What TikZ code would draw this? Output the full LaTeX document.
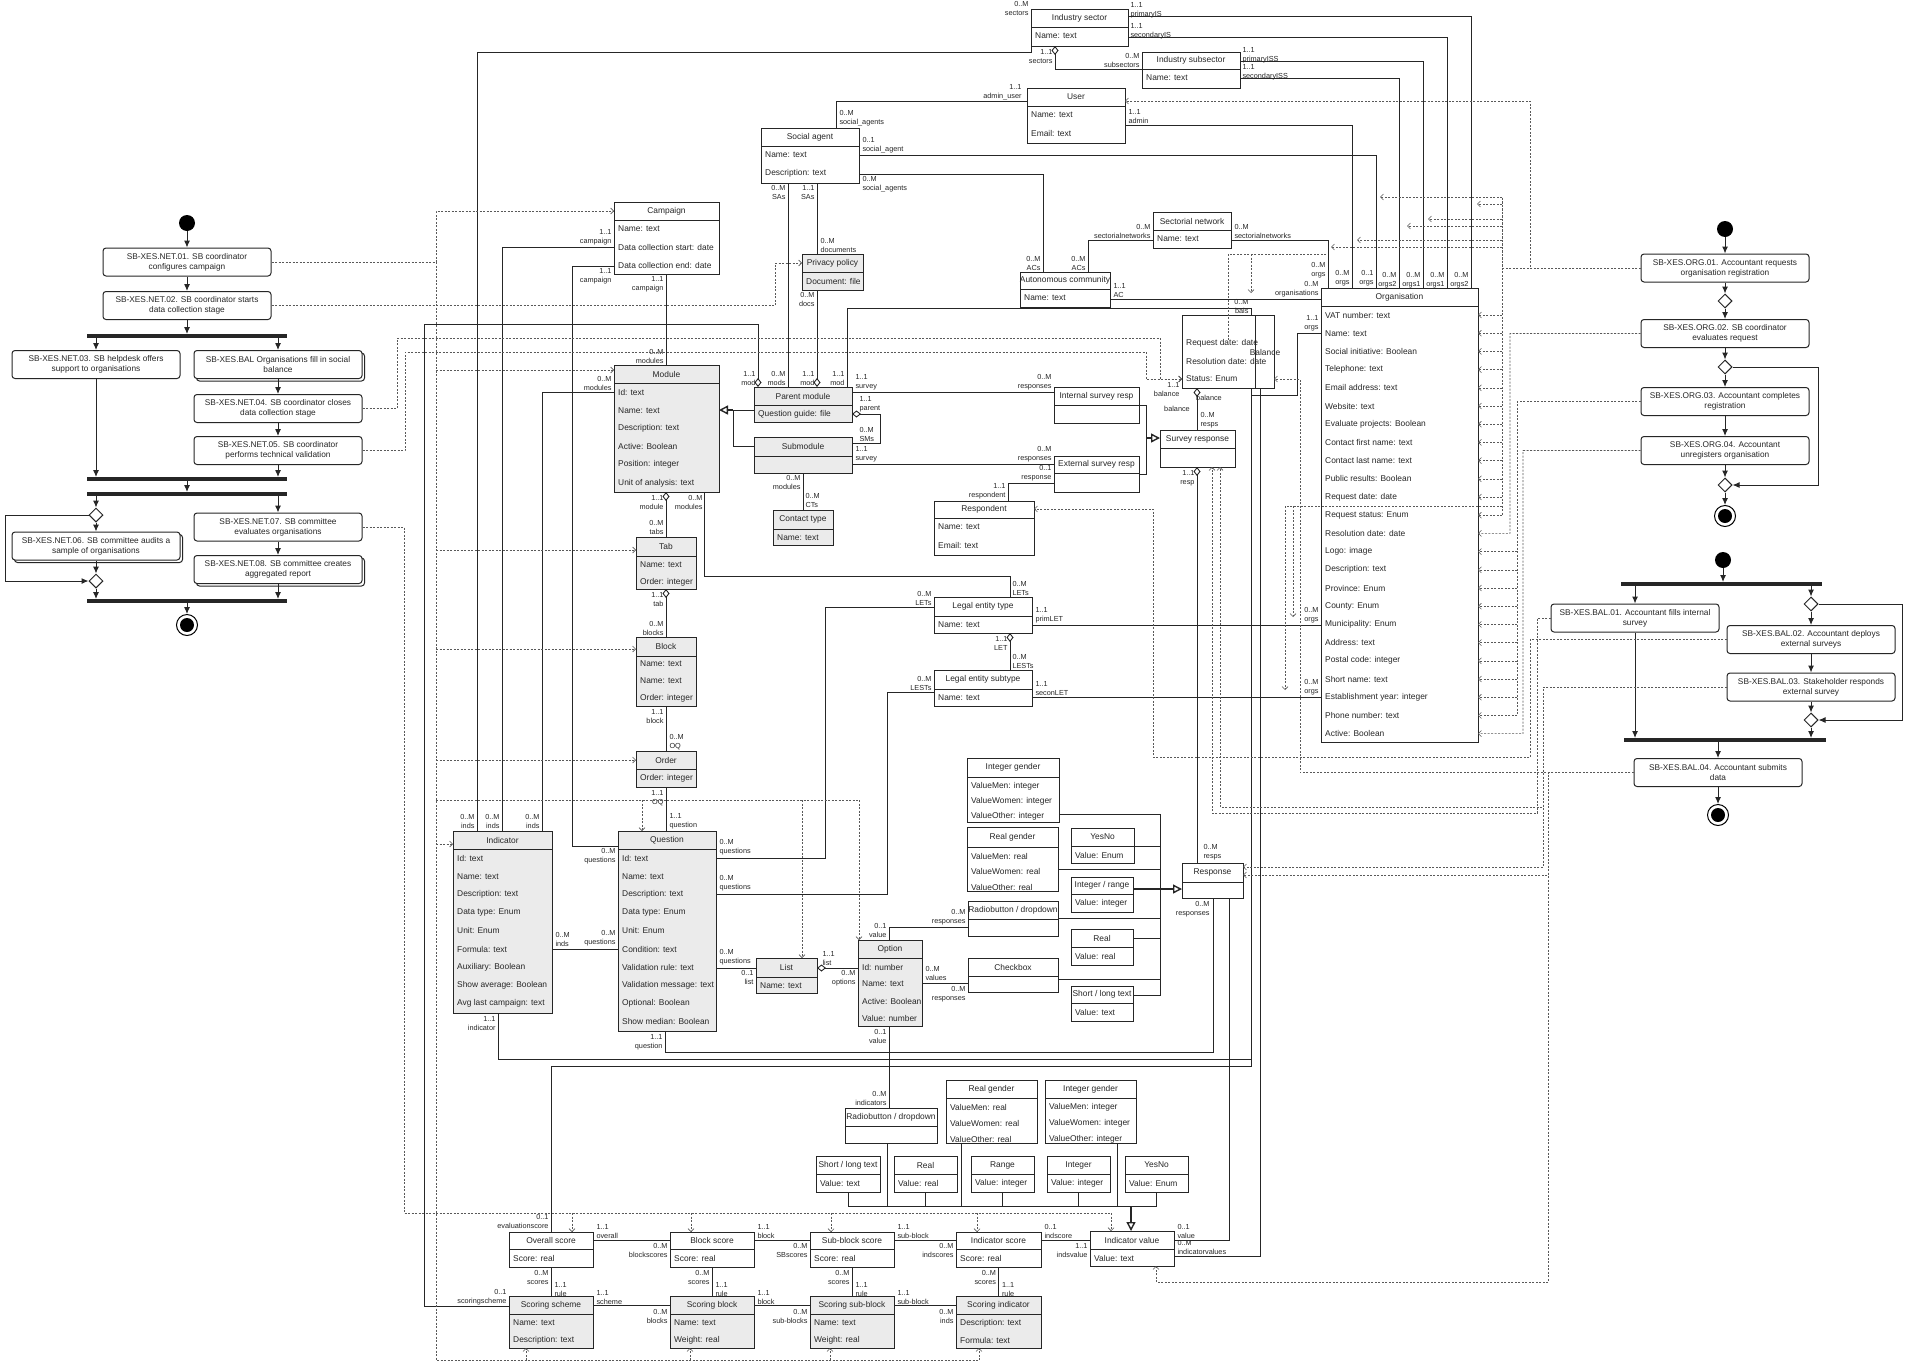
\documentclass[tikz,border=0pt]{standalone}
\usepackage{fontspec}
\setmainfont{Liberation Sans}
\usepackage{xcolor}
\usepackage{tikz}
\usetikzlibrary{shapes.geometric, arrows.meta, positioning, calc, shadows}

\definecolor{clsgray}{HTML}{EBEBEB}
\definecolor{inkc}{HTML}{262626}

\newcommand{\clsfont}{\fontsize{8.4}{9.8}\selectfont}
\newcommand{\lblfont}{\fontsize{7.3}{9}\selectfont}
\newcommand{\actfont}{\fontsize{8.3}{10}\selectfont}
\newcommand{\attrsep}{18.2}
\newcommand{\attroff}{9}
\newcounter{multc}

% class box: [fill]{name}{x}{y}{width}{header h}{body h}{title}{attributes}
\newcommand{\umlclass}[9][white]{%
  \node[clshead, fill=#1, minimum width=#5pt, minimum height=#6pt] (#2) at (#3,#4) {\makebox[0pt]{#8}};
  \node[clsbody, fill=#1, minimum width=#5pt, minimum height=#7pt] (#2-b) at (#2.south west) {};
  \if\relax\detokenize{#9}\relax\else
    \foreach \attrtxt [count=\attrno] in {#9}
      \node[attr] (#2-\attrno) at ($(#2-b.north west)+(4,{\attroff+(\attrno-1)*\attrsep})$) {\attrtxt};
  \fi}
% multiplicity / role label
\newcommand{\multlab}[3]{\stepcounter{multc}\node[mlbl, #1] (m\arabic{multc}) at (#2) {#3};}

\begin{document}
\begin{tikzpicture}[x=1pt, y=-1pt,
    clshead/.style={draw=inkc, line width=0.9pt, anchor=north west, inner sep=0pt, outer sep=0pt, font=\clsfont, text=inkc},
    clsbody/.style={draw=inkc, line width=0.9pt, anchor=north west, inner sep=0pt, outer sep=0pt},
    attr/.style={anchor=west, inner sep=0pt, font=\clsfont, text=inkc},
    mlbl/.style={inner sep=0.3pt, font=\lblfont, text=inkc},
    lblsw/.style={anchor=south west, align=left},
    lblse/.style={anchor=south east, align=right},
    lblnw/.style={anchor=north west, align=left},
    lblne/.style={anchor=north east, align=right},
    act/.style={rectangle, rounded corners=3pt, draw=inkc, line width=1pt, fill=white, minimum width=168pt, minimum height=28pt, inner sep=1pt, align=center, font=\actfont, text=inkc},
    actmulti/.style={act, copy shadow={shadow xshift=2.5pt, shadow yshift=-2.5pt, draw=inkc, line width=1pt, fill=white}},
    syncbar/.style={rectangle, fill=inkc, minimum height=3.6pt, inner sep=0pt, minimum width=200pt},
    dec/.style={diamond, draw=inkc, line width=1pt, fill=white, minimum width=14pt, minimum height=14pt, inner sep=0pt},
    initst/.style={circle, fill=black, minimum size=16pt, inner sep=0pt},
    endst/.style={circle, draw=black, line width=1pt, minimum size=21pt, inner sep=0pt, path picture={\fill[black] (path picture bounding box.center) circle (7pt);}},
    flow/.style={-{Latex[length=7pt, width=6pt]}, line width=1pt, draw=inkc},
    assoc/.style={line width=0.9pt, draw=inkc},
    agg/.style={assoc, {Diamond[open, length=9pt, width=7pt]}-},
    aggend/.style={assoc, -{Diamond[open, length=9pt, width=7pt]}},
    genline/.style={line width=0.9pt, draw=inkc},
    gen/.style={line width=1.4pt, draw=inkc, -{Triangle[open, length=9pt, width=9pt]}},
    depline/.style={line width=0.55pt, draw=black!65, dash pattern=on 2pt off 1.5pt},
    dep/.style={depline, -{Straight Barb[length=3pt, width=6pt]}}
  ]
  \useasboundingbox (0,0) rectangle (1911,1368);
  \fill[white] (0,0) rectangle (1911,1368);

  % ---------------- campaign activity
  \node[initst] (st1) at (187,223) {};
  \node[act] (net01) at (187,262) {SB-XES.NET.01. SB coordinator\\configures campaign};
  \node[act] (net02) at (187,305.5) {SB-XES.NET.02. SB coordinator starts\\data collection stage};
  \node[syncbar] (bar1) at (187,336) {};
  \node[act] (net03) at (96,364.5) {SB-XES.NET.03. SB helpdesk offers\\support to organisations};
  \node[actmulti] (balact) at (278,364.5) {SB-XES.BAL Organisations fill in social\\balance};
  \node[act] (net04) at (278,408.5) {SB-XES.NET.04. SB coordinator closes\\data collection stage};
  \node[act] (net05) at (278,450.5) {SB-XES.NET.05. SB coordinator\\performs technical validation};
  \node[syncbar] (bar2) at (187,479) {};
  \node[syncbar] (bar3) at (187,494) {};
  \node[dec] (dia1) at (96,515) {};
  \node[actmulti] (net06) at (96,546) {SB-XES.NET.06. SB committee audits a\\sample of organisations};
  \node[dec] (dia2) at (96,581) {};
  \node[act] (net07) at (278,527) {SB-XES.NET.07. SB committee\\evaluates organisations};
  \node[actmulti] (net08) at (278,569.5) {SB-XES.NET.08. SB committee creates\\aggregated report};
  \node[syncbar] (bar4) at (187,601) {};
  \node[endst] (en1) at (187,625) {};
  \coordinate (loop1) at (5,515);

  \draw[flow] (st1) -- (net01);
  \draw[flow] (net01) -- (net02);
  \draw[flow] (net02) -- (bar1);
  \draw[flow] (bar1.south -| net03) -- (net03);
  \draw[flow] (bar1.south -| balact) -- (balact);
  \draw[flow] (balact) -- (net04);
  \draw[flow] (net04) -- (net05);
  \draw[flow] (net05) -- (net05 |- bar2.north);
  \draw[flow] (net03) -- (net03 |- bar2.north);
  \draw[flow] (bar2) -- (bar3);
  \draw[flow] (bar3.south -| dia1) -- (dia1);
  \draw[flow] (bar3.south -| net07) -- (net07);
  \draw[flow] (dia1) -- (net06);
  \draw[flow] (net06) -- (dia2);
  \draw[flow] (dia1.west) -- (loop1) |- (dia2.west);
  \draw[flow] (dia2) -- (dia2 |- bar4.north);
  \draw[flow] (net07) -- (net08);
  \draw[flow] (net08) -- (net08 |- bar4.north);
  \draw[flow] (bar4) -- (en1);

  % ---------------- organisation activity
  \node[initst] (st2) at (1725,229) {};
  \node[act] (org01) at (1725,268) {SB-XES.ORG.01. Accountant requests\\organisation registration};
  \node[dec] (dorg1) at (1725,301) {};
  \node[act] (org02) at (1725,333.5) {SB-XES.ORG.02. SB coordinator\\evaluates request};
  \node[dec] (dorg2) at (1725,367) {};
  \node[act] (org03) at (1725,401.5) {SB-XES.ORG.03. Accountant completes\\registration};
  \node[act] (org04) at (1725,450.5) {SB-XES.ORG.04. Accountant\\unregisters organisation};
  \node[dec] (dorg3) at (1725,485) {};
  \node[endst] (en2) at (1725,516) {};
  \coordinate (loop2) at (1818,367);

  \draw[flow] (st2) -- (org01);
  \draw[flow] (org01) -- (dorg1);
  \draw[flow] (dorg1) -- (org02);
  \draw[flow] (org02) -- (dorg2);
  \draw[flow] (dorg2) -- (org03);
  \draw[flow] (org03) -- (org04);
  \draw[flow] (org04) -- (dorg3);
  \draw[flow] (dorg3) -- (en2);
  \draw[flow] (dorg2.east) -- (loop2) |- (dorg3.east);

  % ---------------- balance activity
  \node[initst] (st3) at (1723,560) {};
  \node[syncbar, minimum width=201pt] (barb1) at (1721.5,584) {};
  \node[act] (bal01) at (1635,618) {SB-XES.BAL.01. Accountant fills internal\\survey};
  \node[dec] (dbal1) at (1811,604) {};
  \node[act] (bal02) at (1811,639.5) {SB-XES.BAL.02. Accountant deploys\\external surveys};
  \node[act] (bal03) at (1811,687) {SB-XES.BAL.03. Stakeholder responds\\external survey};
  \node[dec] (dbal2) at (1811,720) {};
  \node[syncbar, minimum width=202pt] (barb2) at (1725,740) {};
  \node[act] (bal04) at (1718,772.5) {SB-XES.BAL.04. Accountant submits\\data};
  \node[endst] (en3) at (1718,815) {};
  \coordinate (loop3) at (1902,604);

  \draw[flow] (st3) -- (st3 |- barb1.north);
  \draw[flow] (barb1.south -| bal01) -- (bal01);
  \draw[flow] (barb1.south -| dbal1) -- (dbal1);
  \draw[flow] (dbal1) -- (bal02);
  \draw[flow] (bal02) -- (bal03);
  \draw[flow] (bal03) -- (dbal2);
  \draw[flow] (dbal1.east) -- (loop3) |- (dbal2.east);
  \draw[flow] (bal01) -- (bal01 |- barb2.north);
  \draw[flow] (dbal2) -- (dbal2 |- barb2.north);
  \draw[flow] (barb2.south -| bal04) -- (bal04);
  \draw[flow] (bal04) -- (en3);

  % ---------------- classes
  \umlclass{isec}{1031}{9}{97}{18}{19}{Industry sector}{Name: text}
  \umlclass{isub}{1142}{52}{98}{17}{19}{Industry subsector}{Name: text}
  \umlclass{user}{1027}{88}{98}{18}{37}{User}{Name: text, Email: text}
  \umlclass{sagent}{761}{128}{98}{18}{37}{Social agent}{Name: text, Description: text}
  \umlclass{snet}{1153}{212}{78}{18}{18}{Sectorial network}{Name: text}
  \umlclass{acom}{1020}{272}{90}{17}{18}{Autonomous community}{Name: text}
  \umlclass[clsgray]{priv}{802}{254}{61}{18}{18}{Privacy policy}{Document: file}
  \umlclass{camp}{614}{202}{105}{18}{54}{Campaign}{Name: text, Data collection start: date, Data collection end: date}
  \umlclass[clsgray]{mod}{614}{365}{105}{18}{109}{Module}{Id: text, Name: text, Description: text, Active: Boolean, Position: integer, Unit of analysis: text}
  \umlclass[clsgray]{pmod}{754}{387}{98}{18}{17}{Parent module}{Question guide: file}
  \umlclass[clsgray]{smod}{754}{437}{98}{19}{17}{Submodule}{}
  \umlclass[clsgray]{ctype}{773}{510}{60}{19}{16}{Contact type}{Name: text}
  \umlclass{isr}{1054}{387}{85}{18}{18}{Internal survey resp}{}
  \umlclass{esr}{1054}{456}{85}{17}{19}{External survey resp}{}
  \umlclass{sresp}{1160}{430}{75}{18}{19}{Survey response}{}
  \umlclass{rspd}{934}{501}{100}{17}{37}{Respondent}{Name: text, Email: text}
  \umlclass{org}{1321}{288}{157}{18}{436}{Organisation}{VAT number: text, Name: text, Social initiative: Boolean, Telephone: text, Email address: text, Website: text, Evaluate projects: Boolean, Contact first name: text, Contact last name: text, Public results: Boolean, Request date: date, Request status: Enum, Resolution date: date, Logo: image, Description: text, Province: Enum, County: Enum, Municipality: Enum, Address: text, Postal code: integer, Short name: text, Establishment year: integer, Phone number: text, Active: Boolean}
  \renewcommand{\attrsep}{17}
  \umlclass[clsgray]{tab}{636}{537}{60}{19}{33}{Tab}{Name: text, Order: integer}
  \renewcommand{\attroff}{8}
  \umlclass[clsgray]{block}{636}{637}{60}{19}{50}{Block}{Name: text, Name: text, Order: integer}
  \renewcommand{\attroff}{9}
  \umlclass[clsgray]{option}{858}{940}{64}{18}{68}{Option}{Id: number, Name: text, Active: Boolean, Value: number}
  \umlclass[clsgray]{sscheme}{509}{1296}{84}{18}{34}{Scoring scheme}{Name: text, Description: text}
  \umlclass[clsgray]{sblock}{670}{1296}{84}{18}{34}{Scoring block}{Name: text, Weight: real}
  \umlclass[clsgray]{ssblock}{810}{1296}{84}{18}{34}{Scoring sub-block}{Name: text, Weight: real}
  \umlclass[clsgray]{sind}{956}{1296}{85}{18}{34}{Scoring indicator}{Description: text, Formula: text}
  \renewcommand{\attrsep}{15}
  \umlclass{igr}{967}{758}{92}{19}{45}{Integer gender}{ValueMen: integer, ValueWomen: integer, ValueOther: integer}
  \renewcommand{\attrsep}{15.5}
  \umlclass{rgr}{967}{827}{91}{20}{44}{Real gender}{ValueMen: real, ValueWomen: real, ValueOther: real}
  \renewcommand{\attrsep}{16}
  \umlclass{rgi}{946}{1080}{91}{18}{45}{Real gender}{ValueMen: real, ValueWomen: real, ValueOther: real}
  \umlclass{igi}{1045}{1080}{91}{18}{45}{Integer gender}{ValueMen: integer, ValueWomen: integer, ValueOther: integer}
  \renewcommand{\attrsep}{18.2}
  \umlclass[clsgray]{order}{636}{751}{60}{18}{18}{Order}{Order: integer}
  \umlclass[clsgray]{ind}{453}{831}{99}{18}{164}{Indicator}{Id: text, Name: text, Description: text, Data type: Enum, Unit: Enum, Formula: text, Auxiliary: Boolean, Show average: Boolean, Avg last campaign: text}
  \umlclass[clsgray]{quest}{618}{831}{98}{18}{182}{Question}{Id: text, Name: text, Description: text, Data type: Enum, Unit: Enum, Condition: text, Validation rule: text, Validation message: text, Optional: Boolean, Show median: Boolean}
  \umlclass[clsgray]{list}{756}{958}{61}{19}{16}{List}{Name: text}
  \umlclass{let}{934}{597}{98}{19}{17}{Legal entity type}{Name: text}
  \umlclass{lest}{934}{670}{98}{19}{17}{Legal entity subtype}{Name: text}
  \umlclass{ynr}{1071}{828}{63}{18}{17}{YesNo}{Value: Enum}
  \umlclass{irr}{1071}{877}{62}{17}{18}{Integer / range}{Value: integer}
  \umlclass{rbr}{968}{901}{90}{18}{17}{Radiobutton / dropdown}{}
  \umlclass{realr}{1071}{929}{62}{18}{18}{Real}{Value: real}
  \umlclass{chk}{968}{958}{90}{18}{16}{Checkbox}{}
  \umlclass{sltr}{1071}{986}{62}{17}{18}{Short / long text}{Value: text}
  \umlclass{response}{1182}{863}{61}{19}{16}{Response}{}
  \umlclass{rbi}{845}{1108}{92}{18}{17}{Radiobutton / dropdown}{}
  \umlclass{slti}{816}{1156}{64}{18}{18}{Short / long text}{Value: text}
  \umlclass{reali}{894}{1156}{63}{18}{18}{Real}{Value: real}
  \umlclass{range}{971}{1156}{63}{18}{18}{Range}{Value: integer}
  \umlclass{inti}{1047}{1156}{63}{18}{18}{Integer}{Value: integer}
  \umlclass{yni}{1125}{1156}{63}{18}{18}{YesNo}{Value: Enum}
  \umlclass{indval}{1090}{1231}{84}{18}{17}{Indicator value}{Value: text}
  \umlclass{oscore}{509}{1232}{84}{17}{18}{Overall score}{Score: real}
  \umlclass{bscore}{670}{1232}{84}{17}{18}{Block score}{Score: real}
  \umlclass{sbscore}{810}{1232}{84}{17}{18}{Sub-block score}{Score: real}
  \umlclass{iscore}{956}{1232}{85}{17}{18}{Indicator score}{Score: real}

  % balance (drawn as two boxes)
  \node[clsbody, minimum width=73pt, minimum height=73pt] (bal) at (1182,315) {};
  \node[clsbody, minimum width=19pt, minimum height=73pt] (bal-t) at (bal.north east) {};
  \node[font=\clsfont, text=inkc, inner sep=0pt] (bal-name) at (1265,352) {Balance};
  \foreach \attrtxt/\yy [count=\attrno] in {Request date: date/343, Resolution date: date/361, Status: Enum/379}
    \node[attr] (bal-\attrno) at (1186,\yy) {\attrtxt};

  % ---------------- associations
  \draw[assoc] (isec.east |- 0,16) -| (org.north -| 1471,0);
  \draw[assoc] (isec-b.east |- 0,37) -| (org.north -| 1447,0);
  \draw[assoc] (isub.east |- 0,61) -| (org.north -| 1423,0);
  \draw[assoc] (isub-b.east |- 0,78) -| (org.north -| 1399,0);
  \draw[agg] (isec-b.south -| 1055,0) |- (isub.west |- 0,69);
  \draw[assoc] (user-b.east |- 0,125) -| (org.north -| 1352,0);
  \draw[assoc] (user.west |- 0,101) -| (sagent.north -| 836,0);
  \draw[assoc] (sagent-b.east |- 0,155) -| (org.north -| 1376,0);
  \draw[assoc] (sagent-b.east |- 0,174) -| (acom.north -| 1043,0);
  \draw[assoc] (acom.north -| 1088,0) |- (snet-b.west |- 0,240);
  \draw[assoc] (snet-b.east |- 0,240) -| (org.north -| 1328,0);
  \draw[assoc] (acom-b.east |- 0,299) -- (org.west |- 0,299);
  \draw[assoc] (sagent-b.south -| 817,0) -- (priv.north -| 817,0);
  \draw[aggend] (priv-b.south -| 817,0) -- (pmod.north -| 817,0);
  \draw[assoc] (sagent-b.south -| 788,0) -- (pmod.north -| 788,0);
  \draw[aggend] (sscheme.west |- 0,1306) -| (424,324) -| (pmod.north -| 758,0);
  \draw[assoc] (bal.north -| 1251,0) |- (847,308) -- (pmod.north -| 847,0);
  \draw[assoc] (pmod.east |- 0,392) -- (isr.west |- 0,392);
  \draw[assoc] (smod-b.east |- 0,464) -- (esr-b.west |- 0,464);
  \draw[agg] (pmod-b.east |- 0,414) -| (880,443) -- (smod.east |- 0,443);
  \coordinate (genj0) at (733,410);
  \draw[genline] (pmod-b.west |- 0,410) -- (genj0);
  \draw[genline] (smod.west |- 0,446) -| (genj0);
  \draw[gen] (genj0) -- (mod-b.east |- genj0);
  \draw[assoc] (smod-b.south -| 803,0) -- (ctype.north -| 803,0);
  \draw[assoc] (esr-b.west |- 0,483) -| (rspd.north -| 1008,0);
  \coordinate (genj1) at (1146,438);
  \draw[genline] (isr.east |- 0,405) -| (1146,474) -- (esr.east |- 0,474);
  \draw[gen] (genj1) -- (sresp.west |- genj1);
  \draw[aggend] (sresp.north -| 1197,0) -- (bal.south -| 1197,0);
  \draw[agg] (sresp-b.south -| 1197,0) -- (response.north -| 1197,0);
  \draw[assoc] (bal.south -| 1251,0) |- (1297,395) |- (org.west |- 0,333);
  \draw[assoc] (camp-b.west |- 0,247) -| (ind.north -| 502,0);
  \draw[assoc] (camp-b.west |- 0,266) -| (572,846) -- (quest.west |- 0,846);
  \draw[assoc] (camp-b.south -| 666,0) -- (mod.north -| 666,0);
  \draw[assoc] (mod-b.west |- 0,392) -| (ind.north -| 542,0);
  \draw[assoc] (isec-b.south west) -- ++(0,6) -| (ind.north -| 477,0);
  \draw[agg] (mod-b.south -| 666,0) -- (tab.north -| 666,0);
  \draw[assoc] (mod-b.south -| 704,0) |- (1010,576) -- (let.north -| 1010,0);
  \draw[agg] (tab-b.south -| 666,0) -- (block.north -| 666,0);
  \draw[assoc] (block-b.south -| 666,0) -- (order.north -| 666,0);
  \draw[assoc] (order-b.south -| 666,0) -- (quest.north -| 666,0);
  \draw[assoc] (ind-b.east |- 0,949) -- (quest-b.west |- 0,949);
  \draw[assoc] (quest-b.east |- 0,858) -| (825,607) -- (let.west |- 0,607);
  \draw[assoc] (quest-b.east |- 0,894) -| (887,692) -- (lest-b.west |- 0,692);
  \draw[assoc] (quest-b.east |- 0,968) -- (list.west |- 0,968);
  \draw[agg] (list.east |- 0,968) -- (option-b.west |- 0,968);
  \draw[assoc] (option.north -| 889,0) |- (rbr-b.west |- 0,927);
  \draw[assoc] (option-b.east |- 0,983) -- (chk-b.west |- 0,983);
  \draw[assoc] (option-b.south -| 889,0) -- (rbi.north -| 889,0);
  \draw[assoc] (let-b.east |- 0,625) -- (org-b.west |- 0,625);
  \draw[assoc] (lest-b.east |- 0,697) -- (org-b.west |- 0,697);
  \draw[agg] (let-b.south -| 1010,0) -- (lest.north -| 1010,0);
  % response kinds
  \coordinate (genj3) at (1160,889);
  \draw[genline] (igr-b.east |- 0,814) -| (1160,995) -- (sltr.east |- 0,995);
  \draw[genline] (rgr-b.east |- 0,869) -- (1160,869);
  \draw[genline] (ynr.east |- 0,846) -- (1160,846);
  \draw[genline] (rbr.east |- 0,918) -- (1160,918);
  \draw[genline] (realr.east |- 0,938) -- (1160,938);
  \draw[genline] (chk-b.east |- 0,979) -- (1160,979);
  \draw[gen] (irr.east |- genj3) -- (response-b.west |- genj3);
  % indicator value kinds
  \coordinate (genj2) at (1131,1206);
  \draw[genline] (slti-b.south) |- (yni-b.south |- genj2) -- (yni-b.south);
  \draw[genline] (rbi-b.south -| 887,0) -- (887,1206);
  \draw[genline] (reali-b.south) -- (reali-b.south |- genj2);
  \draw[genline] (rgi-b.south -| 961,0) -- (961,1206);
  \draw[genline] (range-b.south) -- (range-b.south |- genj2);
  \draw[genline] (inti-b.south) -- (inti-b.south |- genj2);
  \draw[genline] (igi-b.south -| 1117,0) -- (1117,1206);
  \draw[gen] (genj2) -- (indval.north -| genj2);
  % bottom links
  \draw[assoc] (quest-b.south -| 665,0) |- (1213,1052) -- (response-b.south -| 1213,0);
  \draw[assoc] (ind-b.south -| 498,0) |- (1251,1059);
  \draw[assoc] (oscore.north -| 551,0) |- (1251,1066) -- (bal.south -| 1251,0);
  \draw[assoc] (indval.east |- 0,1240) -| (response-b.south -| 1229,0);
  \draw[assoc] (indval-b.east |- 0,1256) -| (bal-t.south -| 1260,0);
  % scores
  \draw[assoc] (oscore.east) -- (bscore.west);
  \draw[assoc] (bscore.east) -- (sbscore.west);
  \draw[assoc] (sbscore.east) -- (iscore.west);
  \draw[assoc] (iscore.east) -- (indval.west |- iscore.east);
  \draw[assoc] (sscheme.east) -- (sblock.west);
  \draw[assoc] (sblock.east) -- (ssblock.west);
  \draw[assoc] (ssblock.east) -- (sind.west);
  \draw[assoc] (oscore-b.south) -- (sscheme.north);
  \draw[assoc] (bscore-b.south) -- (sblock.north);
  \draw[assoc] (sbscore-b.south) -- (ssblock.north);
  \draw[assoc] (iscore-b.south) -- (sind.north);

  % ---------------- labels
  \multlab{lblne}{1029,1}{0..M\\sectors}
  \multlab{lblsw}{1130,19}{1..1\\primaryIS}
  \multlab{lblsw}{1130,40}{1..1\\secondaryIS}
  \multlab{lblsw}{1242,64}{1..1\\primaryISS}
  \multlab{lblsw}{1242,81}{1..1\\secondaryISS}
  \multlab{lblne}{1053,49}{1..1\\sectors}
  \multlab{lblse}{1140,68}{0..M\\subsectors}
  \multlab{lblse}{1022,100}{1..1\\admin\_user}
  \multlab{lblsw}{839,127}{0..M\\social\_agents}
  \multlab{lblsw}{1128,124}{1..1\\admin}
  \multlab{lblsw}{862,154}{0..1\\social\_agent}
  \multlab{lblnw}{862,176}{0..M\\social\_agents}
  \multlab{lblse}{1041,271}{0..M\\ACs}
  \multlab{lblse}{1086,271}{0..M\\ACs}
  \multlab{lblse}{1151,239}{0..M\\sectorialnetworks}
  \multlab{lblsw}{1234,239}{0..M\\sectorialnetworks}
  \multlab{lblse}{1326,279}{0..M\\orgs}
  \multlab{lblse}{1350,287}{0..M\\orgs}
  \multlab{lblse}{1374,287}{0..1\\orgs}
  \multlab{lblse}{1397,289}{0..M\\orgs2}
  \multlab{lblse}{1421,289}{0..M\\orgs1}
  \multlab{lblse}{1445,289}{0..M\\orgs1}
  \multlab{lblse}{1469,289}{0..M\\orgs2}
  \multlab{lblsw}{1113,298}{1..1\\AC}
  \multlab{lblse}{1319,298}{0..M\\organisations}
  \multlab{lblne}{815,185}{1..1\\SAs}
  \multlab{lblne}{786,185}{0..M\\SAs}
  \multlab{lblsw}{820,253}{0..M\\documents}
  \multlab{lblne}{815,292}{0..M\\docs}
  \multlab{lblse}{815,386}{1..1\\mod}
  \multlab{lblse}{786,386}{0..M\\mods}
  \multlab{lblse}{756,386}{1..1\\mod}
  \multlab{lblse}{845,386}{1..1\\mod}
  \multlab{lblse}{1249,314}{0..M\\bals}
  \multlab{lblse}{507,1305}{0..1\\scoringscheme}
  \multlab{lblsw}{855,391}{1..1\\survey}
  \multlab{lblse}{1052,391}{0..M\\responses}
  \multlab{lblsw}{855,463}{1..1\\survey}
  \multlab{lblse}{1052,463}{0..M\\responses}
  \multlab{lblsw}{859,413}{1..1\\parent}
  \multlab{lblsw}{859,442}{0..M\\SMs}
  \multlab{lblne}{801,475}{0..M\\modules}
  \multlab{lblsw}{805,508}{0..M\\CTs}
  \multlab{lblse}{1052,482}{0..1\\response}
  \multlab{lblse}{1006,500}{1..1\\respondent}
  \multlab{lblsw}{1200,429}{0..M\\resps}
  \multlab{lblse}{1180,397}{1..1\\balance}
  \multlab{anchor=center}{1209,398}{balance}
  \multlab{anchor=center}{1177,409}{balance}
  \multlab{lblne}{1195,470}{1..1\\resp}
  \multlab{lblsw}{1203,861}{0..M\\resps}
  \multlab{lblse}{1319,332}{1..1\\orgs}
  \multlab{lblse}{612,246}{1..1\\campaign}
  \multlab{lblne}{612,268}{1..1\\campaign}
  \multlab{lblne}{664,276}{1..1\\campaign}
  \multlab{lblse}{664,364}{0..M\\modules}
  \multlab{lblse}{612,391}{0..M\\modules}
  \multlab{lblse}{475,829}{0..M\\inds}
  \multlab{lblse}{500,829}{0..M\\inds}
  \multlab{lblse}{540,829}{0..M\\inds}
  \multlab{lblne}{616,848}{0..M\\questions}
  \multlab{lblne}{664,495}{1..1\\module}
  \multlab{lblse}{664,535}{0..M\\tabs}
  \multlab{lblne}{703,495}{0..M\\modules}
  \multlab{lblsw}{1012,596}{0..M\\LETs}
  \multlab{lblne}{664,592}{1..1\\tab}
  \multlab{lblse}{664,636}{0..M\\blocks}
  \multlab{lblne}{664,709}{1..1\\block}
  \multlab{lblsw}{669,750}{0..M\\OQ}
  \multlab{lblne}{664,790}{1..1\\OQ}
  \multlab{lblsw}{669,830}{1..1\\question}
  \multlab{lblsw}{555,947}{0..M\\inds}
  \multlab{lblse}{616,947}{0..M\\questions}
  \multlab{lblsw}{719,856}{0..M\\questions}
  \multlab{lblse}{932,606}{0..M\\LETs}
  \multlab{lblsw}{719,892}{0..M\\questions}
  \multlab{lblse}{932,691}{0..M\\LESTs}
  \multlab{lblsw}{719,966}{0..M\\questions}
  \multlab{lblne}{754,970}{0..1\\list}
  \multlab{lblsw}{822,966}{1..1\\list}
  \multlab{lblne}{856,970}{0..M\\options}
  \multlab{lblse}{887,938}{0..1\\value}
  \multlab{lblse}{966,926}{0..M\\responses}
  \multlab{lblsw}{925,981}{0..M\\values}
  \multlab{lblne}{966,986}{0..M\\responses}
  \multlab{lblne}{887,1029}{0..1\\value}
  \multlab{lblse}{887,1106}{0..M\\indicators}
  \multlab{lblsw}{1035,624}{1..1\\primLET}
  \multlab{lblse}{1319,624}{0..M\\orgs}
  \multlab{lblsw}{1035,696}{1..1\\seconLET}
  \multlab{lblse}{1319,696}{0..M\\orgs}
  \multlab{lblne}{1008,636}{1..1\\LET}
  \multlab{lblsw}{1012,669}{0..M\\LESTs}
  \multlab{lblne}{663,1034}{1..1\\question}
  \multlab{lblne}{1210,901}{0..M\\responses}
  \multlab{lblne}{496,1016}{1..1\\indicator}
  \multlab{lblse}{549,1229}{0..1\\evaluationscore}
  \multlab{lblsw}{1177,1239}{0..1\\value}
  \multlab{lblsw}{1177,1255}{0..M\\indicatorvalues}
  \multlab{lblsw}{596,1239}{1..1\\overall}
  \multlab{lblne}{668,1243}{0..M\\blockscores}
  \multlab{lblsw}{757,1239}{1..1\\block}
  \multlab{lblne}{808,1243}{0..M\\SBscores}
  \multlab{lblsw}{897,1239}{1..1\\sub-block}
  \multlab{lblne}{954,1243}{0..M\\indscores}
  \multlab{lblsw}{1044,1239}{0..1\\indscore}
  \multlab{lblne}{1088,1243}{1..1\\indsvalue}
  \foreach \xx in {551,712,852,998.5} {
    \multlab{lblne}{\xx-2,1270}{0..M\\scores}
    \multlab{lblsw}{\xx+3,1297}{1..1\\rule}
  }
  \multlab{lblsw}{596,1305}{1..1\\scheme}
  \multlab{lblne}{668,1309}{0..M\\blocks}
  \multlab{lblsw}{757,1305}{1..1\\block}
  \multlab{lblne}{808,1309}{0..M\\sub-blocks}
  \multlab{lblsw}{897,1305}{1..1\\sub-block}
  \multlab{lblne}{954,1309}{0..M\\inds}

  % ---------------- dependencies from the activities
  \draw[dep] (net01.east) -| (436,211) -- (camp.west |- 0,211);
  \draw[depline] (436,262) |- (979,1360);
  \foreach \cn/\yy in {mod/370, tab/550, block/649, order/760, ind/844}
    \draw[dep] (436,\yy) -- (\cn.west |- 0,\yy);
  \draw[depline] (436,800) -- (859,800);
  \foreach \cn/\xx in {quest/642, list/802, option/859}
    \draw[dep] (\xx,800) -- (\cn.north -| \xx,0);
  \foreach \cn/\xx in {sscheme/526, sblock/690, ssblock/830, sind/979}
    \draw[dep] (\xx,1360) -- (\cn-b.south -| \xx,0);
  \draw[dep] (net02.east) -| (775,263) -- (priv.west |- 0,263);
  \draw[dep] (net04.east) -| (397,338) -| (1160,379) -- (bal.west |- 0,379);
  \draw[dep] (net05.east) -| (405,352) -| (1146,379) -- (bal.west |- 0,379);
  \draw[depline] (net07.east) -| (404,1213) -- (1111,1213);
  \foreach \cn/\xx in {oscore/572, bscore/691, sbscore/831, iscore/977, indval/1111}
    \draw[dep] (\xx,1213) -- (\cn.north -| \xx,0);

  \draw[depline] (org01.west) -| (1502,197) -- (1502,515);
  \foreach \xx/\yy in {1380/197, 1477/204, 1428/219, 1407/226, 1357/240, 1331/247}
    \draw[dep] (1502,\yy) -- (\xx,\yy);
  \draw[depline] (1326,254) -| (1228,340);
  \draw[dep] (1251,254) -- (1251,293);
  \foreach \rr in {1,...,12}
    \draw[dep] ($(org-b.east |- org-\rr)+(24,0)$) -- (org-b.east |- org-\rr);
  \draw[dep] (org02.west) -| (1510,533.4) -- (org-b.east |- org-13);
  \draw[depline] (org03.west) -| (1517,715.4);
  \foreach \rr in {14,...,23}
    \draw[dep] ($(org-b.east |- org-\rr)+(39,0)$) -- (org-b.east |- org-\rr);
  \draw[dep] (org04.west) -| (1523,733.6) -- (org-b.east |- org-24);
  \draw[dep] (org01.west) -| (1530,101) -- (user.east |- 0,101);
  \draw[depline] (1502,506) -- (1285,506);
  \draw[dep] (1293,506) -- (1293,617);
  \draw[dep] (1285,506) -- (1285,690);

  \draw[dep] (bal01.west) -| (1537,813) -| (sresp-b.south -| 1212,0);
  \draw[dep] (bal02.west) -| (1530,757) -| (1153,509) -- (rspd.east |- 0,509);
  \draw[dep] (bal03.west) -| (1543,807) -| (sresp-b.south -| 1220,0);
  \draw[dep] (bal03.west) -| (1543,867) -- (response.east |- 0,867);
  \draw[dep] (bal04.west) -| (1548,875) -- (response.east |- 0,875);
  \draw[dep] (bal04.west) -| (1300,379) -- (bal-t.east |- 0,379);
  \draw[dep] (bal04.west) -| (1548,1282) -| (indval-b.south -| 1156,0);
\end{tikzpicture}
\end{document}
